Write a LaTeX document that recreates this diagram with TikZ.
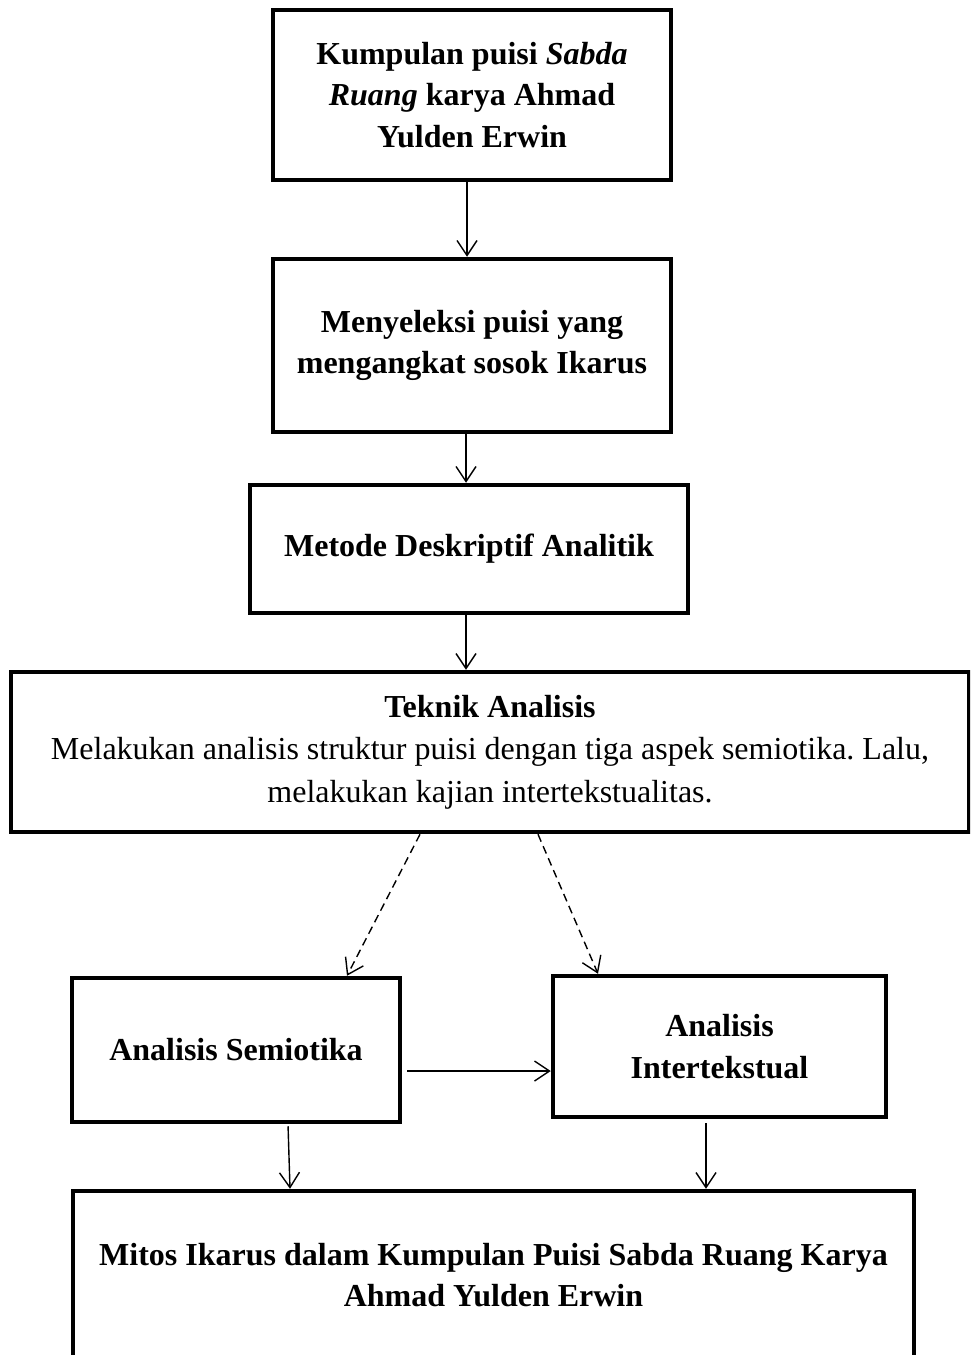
\documentclass[tikz,border=0pt]{standalone}
\usepackage{fontspec}
\setmainfont{Liberation Serif}
\usetikzlibrary{arrows.meta}
\frenchspacing
\tikzset{
  box/.style={draw, line width=4.5pt, inner sep=0pt, align=center, font=\fontsize{32}{41.5}\selectfont\bfseries},
  arr/.style={line width=1.4pt, -{Straight Barb[length=15pt,width=20pt,line width=1.4pt]}},
  darr/.style={arr, dash pattern=on 8pt off 5pt}
}
\begin{document}
\begin{tikzpicture}[x=1pt,y=-1pt]
\clip (0,0) rectangle (970,1355);
\fill[white] (0,0) rectangle (970,1355);
\node[box, minimum width=398pt, minimum height=170pt] (b1) at (472,95)
  {Kumpulan puisi \textit{Sabda}\\\textit{Ruang} karya Ahmad\\Yulden Erwin};
\node[box, minimum width=398pt, minimum height=173pt] (b2) at (472,345.5)
  {Menyeleksi puisi yang\\mengangkat sosok Ikarus};
\node[box, minimum width=438pt, minimum height=128pt] (b3) at (469,549)
  {Metode Deskriptif Analitik};
\node[box, minimum width=958pt, minimum height=160pt, font=\fontsize{32}{42.5}\selectfont] (b4) at (490,752)
  {\textbf{Teknik Analisis}\\Melakukan analisis struktur puisi dengan tiga aspek semiotika. Lalu,\\melakukan kajian intertekstualitas.};
\node[box, minimum width=328pt, minimum height=144pt] (b5) at (236,1050)
  {Analisis Semiotika};
\node[box, minimum width=333pt, minimum height=141pt] (b6) at (719.5,1046.5)
  {Analisis\\Intertekstual};
\node[box, minimum width=841pt, minimum height=168pt] (b7) at (493.5,1275)
  {Mitos Ikarus dalam Kumpulan Puisi Sabda Ruang Karya\\Ahmad Yulden Erwin};
\draw[arr] ([xshift=-5pt]b1.south) -- ([xshift=-5pt]b2.north);
\draw[arr] ([xshift=-6pt]b2.south) -- ([xshift=-3pt]b3.north);
\draw[arr] ([xshift=-3pt]b3.south) -- ([xshift=-24pt]b4.north);
\draw[darr] ([xshift=-70pt]b4.south) -- ([xshift=111pt]b5.north);
\draw[darr] ([xshift=48pt]b4.south) -- ([xshift=-121.5pt]b6.north);
\draw[arr, shorten <=5pt] ([yshift=-21pt]b5.east) -- ([yshift=-21pt]b5.east -| b6.west);
\draw[arr, shorten <=2pt] ([xshift=52pt]b5.south) -- ([xshift=-203.5pt]b7.north);
\draw[arr, shorten <=4pt] ([xshift=-13.5pt]b6.south) -- ([xshift=212.5pt]b7.north);
\end{tikzpicture}
\end{document}
